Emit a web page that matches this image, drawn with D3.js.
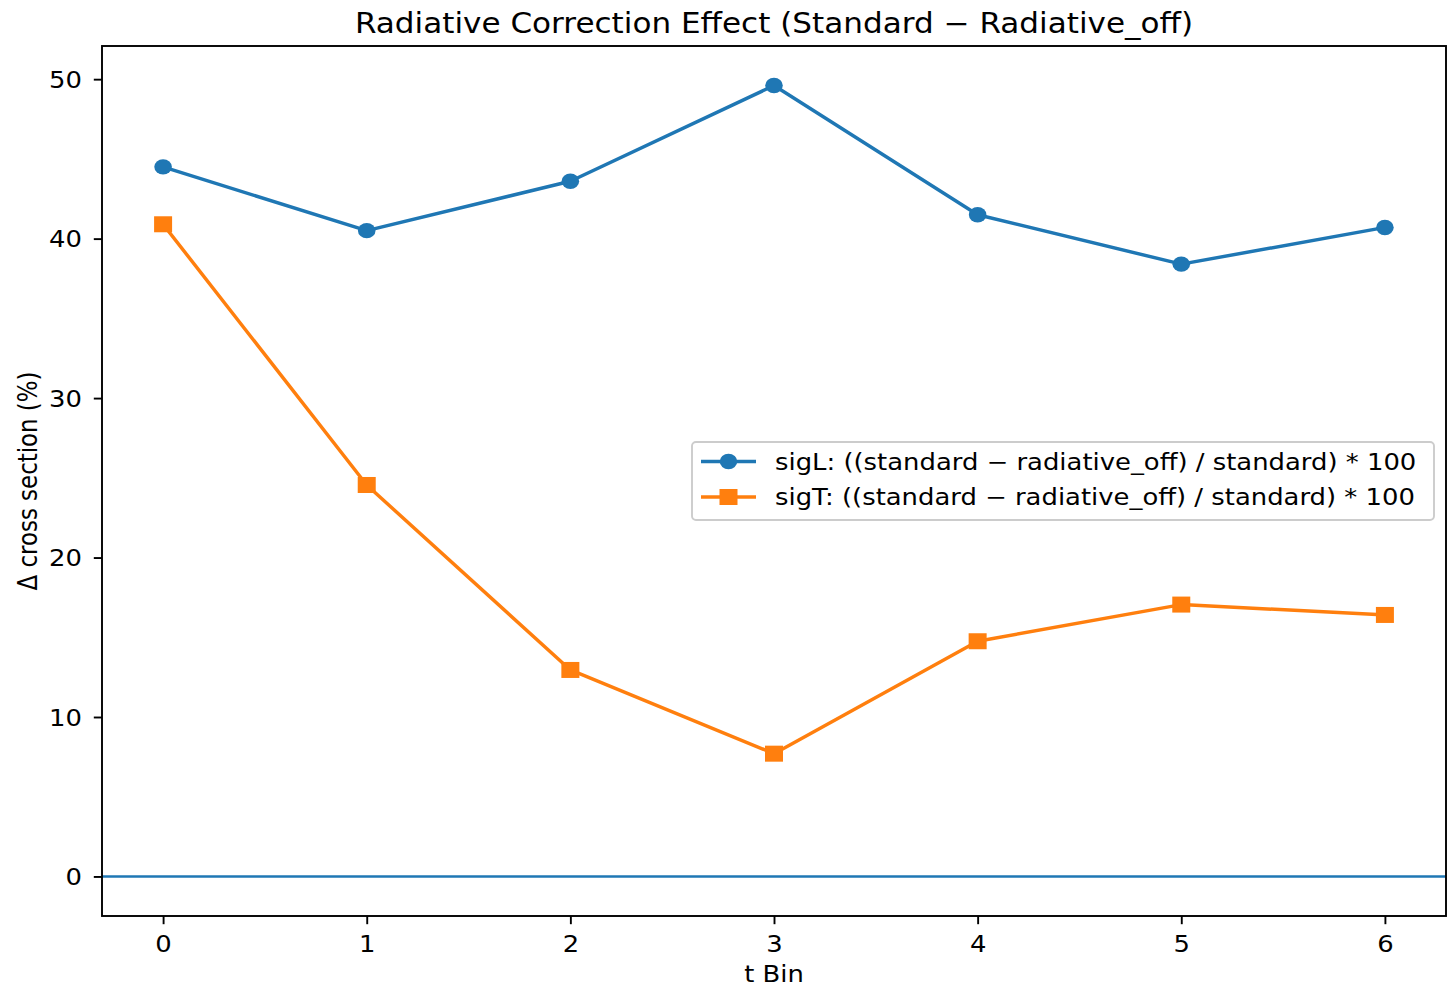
<!DOCTYPE html>
<html>
<head>
<meta charset="utf-8">
<script src="https://cdn.jsdelivr.net/npm/d3@7"></script>
<style>
  html, body { margin: 0; padding: 0; background: #fff; }
  svg { display: block; font-family: "DejaVu Sans", sans-serif; }
</style>
</head>
<body>
<svg id="chart" width="1450" height="988"></svg>
<script>
const bins = [0, 1, 2, 3, 4, 5, 6];
const sigL = [44.5, 40.5, 43.6, 49.6, 41.5, 38.4, 40.7];
const sigT = [40.9, 24.55, 12.95, 7.7, 14.75, 17.05, 16.4];
const yTicks = [0, 10, 20, 30, 40, 50];
const xTicks = [0, 1, 2, 3, 4, 5, 6];
const seriesNames = [
  "sigL: ((standard \u2212 radiative_off) / standard) * 100",
  "sigT: ((standard \u2212 radiative_off) / standard) * 100"
];
const title = "Radiative Correction Effect (Standard \u2212 Radiative_off)";
const xLabel = "t Bin";
const yLabel = "\u0394 cross section (%)";

const C0 = "#1f77b4", C1 = "#ff7f0e";
const svg = d3.select("#chart");
const L = 102, R = 1446, T = 46, B = 916;
const SX = 1.13; // horizontal stretch of the reference rendering

const allY = sigL.concat(sigT).concat([0]);
const yMin = d3.min(allY), yMax = d3.max(allY);
const yPad = (yMax - yMin) * 0.05;
const xMin = d3.min(bins), xMax = d3.max(bins);
const xPad = (xMax - xMin) * 0.05;

const x = d3.scaleLinear().domain([xMin - xPad, xMax + xPad]).range([L, R]);
const y = d3.scaleLinear().domain([yMin - yPad, yMax + yPad]).range([B, T]);

const fontSize = 22.9;

function stretchedText(parent, px, py, str, size, anchor) {
  return parent.append("text")
    .attr("transform", `translate(${px},${py}) scale(${SX},1)`)
    .attr("text-anchor", anchor).attr("font-size", size).attr("fill", "#000")
    .text(str);
}

// zero line
svg.append("line")
  .attr("x1", L).attr("x2", R)
  .attr("y1", y(0)).attr("y2", y(0))
  .attr("stroke", C0).attr("stroke-width", 2.6);

const line = d3.line().x((d, i) => x(bins[i])).y(d => y(d));

// sigL
svg.append("path").datum(sigL).attr("d", line)
  .attr("fill", "none").attr("stroke", C0).attr("stroke-width", 3.45)
  .attr("stroke-linejoin", "round").attr("stroke-linecap", "square");
svg.selectAll(".ptL").data(sigL).enter().append("ellipse")
  .attr("cx", (d, i) => x(bins[i])).attr("cy", d => y(d))
  .attr("rx", 8.8).attr("ry", 7.7).attr("fill", C0);

// sigT
svg.append("path").datum(sigT).attr("d", line)
  .attr("fill", "none").attr("stroke", C1).attr("stroke-width", 3.45)
  .attr("stroke-linejoin", "round").attr("stroke-linecap", "square");
const sqW = 18, sqH = 16;
svg.selectAll(".ptT").data(sigT).enter().append("rect")
  .attr("x", (d, i) => x(bins[i]) - sqW / 2).attr("y", d => y(d) - sqH / 2)
  .attr("width", sqW).attr("height", sqH).attr("fill", C1);

// axes frame
svg.append("rect").attr("x", L).attr("y", T).attr("width", R - L).attr("height", B - T)
  .attr("fill", "none").attr("stroke", "#000").attr("stroke-width", 1.9);

// y axis
const yAxis = d3.axisLeft(y).tickValues(yTicks).tickSize(8.2).tickPadding(8).tickFormat(d3.format("d"));
const gy = svg.append("g").attr("transform", `translate(${L},0)`).call(yAxis);
gy.select(".domain").remove();
gy.selectAll(".tick line").attr("stroke", "#000").attr("stroke-width", 1.9);
gy.selectAll(".tick text").attr("font-size", fontSize).attr("fill", "#000")
  .attr("font-family", "DejaVu Sans").attr("dy", "0.35em")
  .attr("x", 0).attr("transform", `translate(-20,0) scale(${SX},1)`);

// x axis
const xAxis = d3.axisBottom(x).tickValues(xTicks).tickSize(8.2).tickPadding(8).tickFormat(d3.format("d"));
const gx = svg.append("g").attr("transform", `translate(0,${B})`).call(xAxis);
gx.select(".domain").remove();
gx.selectAll(".tick line").attr("stroke", "#000").attr("stroke-width", 1.9);
gx.selectAll(".tick text").attr("font-size", fontSize).attr("fill", "#000")
  .attr("font-family", "DejaVu Sans").attr("dy", null).attr("y", 0)
  .attr("transform", `translate(0,35.7) scale(${SX},1)`);

// title
stretchedText(svg, (L + R) / 2, 32.7, title, 27.5, "middle");

// x label
stretchedText(svg, (L + R) / 2, 981.5, xLabel, fontSize, "middle");

// y label
svg.append("text").attr("transform", `translate(37,${(T + B) / 2}) scale(${SX},1) rotate(-90)`)
  .attr("text-anchor", "middle").attr("font-size", fontSize).attr("fill", "#000")
  .text(yLabel);

// legend
const lg = svg.append("g");
lg.append("rect").attr("x", 692).attr("y", 442).attr("width", 742).attr("height", 78)
  .attr("rx", 4).attr("fill", "#fff").attr("fill-opacity", 0.8)
  .attr("stroke", "#cccccc").attr("stroke-width", 1.9);
const rows = [
  { name: seriesNames[0], color: C0, marker: "circle", yy: 461.5 },
  { name: seriesNames[1], color: C1, marker: "square", yy: 497 }
];
rows.forEach(r => {
  lg.append("line").attr("x1", 701).attr("x2", 756).attr("y1", r.yy).attr("y2", r.yy)
    .attr("stroke", r.color).attr("stroke-width", 3.45);
  if (r.marker === "circle") {
    lg.append("ellipse").attr("cx", 728.5).attr("cy", r.yy).attr("rx", 8.8).attr("ry", 7.7).attr("fill", r.color);
  } else {
    lg.append("rect").attr("x", 728.5 - sqW / 2).attr("y", r.yy - sqH / 2)
      .attr("width", sqW).attr("height", sqH).attr("fill", r.color);
  }
  stretchedText(lg, 775, r.yy, r.name, fontSize, "start").attr("dy", "0.36em");
});
</script>
</body>
</html>
